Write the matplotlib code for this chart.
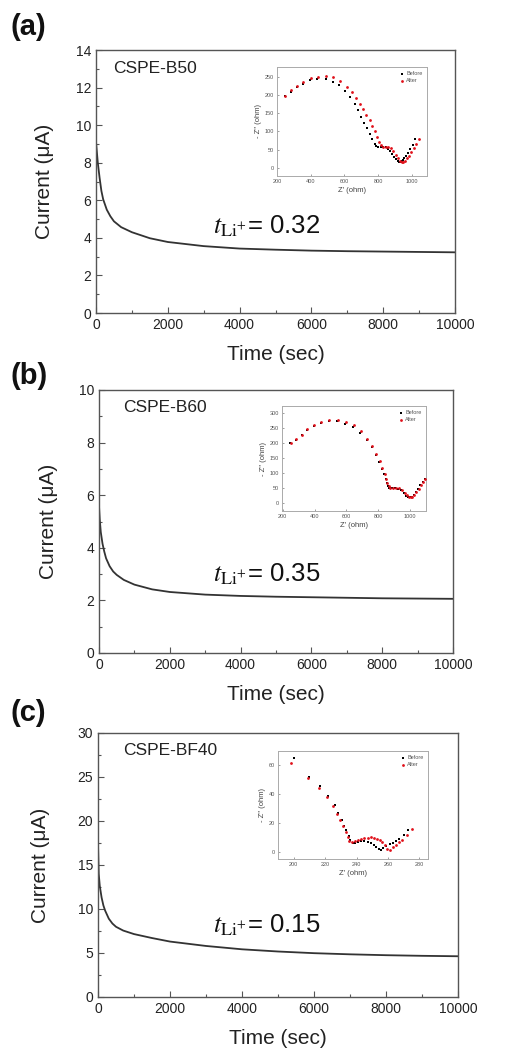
import matplotlib
matplotlib.use("Agg")
import matplotlib.pyplot as plt
from matplotlib.ticker import MultipleLocator

plt.rcParams['font.family'] = ['Liberation Sans', 'DejaVu Sans']
plt.rcParams['mathtext.fontset'] = 'stix'

# ---------------- data ----------------
time_a = [0, 50, 100, 150, 200, 300, 400, 500, 700, 1000, 1500, 2000, 3000, 4000, 5000, 6000, 7000, 8000, 9000, 10000]
current_a = [9.1, 8.0, 7.2, 6.5, 6.05, 5.5, 5.15, 4.88, 4.57, 4.3, 3.98, 3.78, 3.56, 3.43, 3.37, 3.32, 3.29, 3.27, 3.25, 3.23]

time_b = [0, 20, 50, 100, 150, 200, 300, 400, 500, 700, 1000, 1500, 2000, 3000, 4000, 5000, 6000, 7000, 8000, 9000, 10000]
current_b = [5.6, 5.1, 4.6, 4.15, 3.85, 3.6, 3.3, 3.1, 2.97, 2.78, 2.6, 2.42, 2.32, 2.22, 2.17, 2.14, 2.12, 2.10, 2.08, 2.07, 2.06]

time_c = [0, 20, 50, 100, 150, 200, 300, 400, 500, 700, 1000, 1500, 2000, 3000, 4000, 5000, 6000, 7000, 8000, 9000, 10000]
current_c = [17.5, 14.0, 12.6, 11.3, 10.4, 9.8, 8.9, 8.35, 7.98, 7.55, 7.15, 6.7, 6.3, 5.8, 5.42, 5.17, 4.98, 4.85, 4.75, 4.68, 4.63]

# EIS insets: Z' (ohm), -Z'' (ohm)
eis_a_before_x = [250, 282, 318, 352, 395, 440, 488, 530, 568, 605, 635, 660, 680, 700, 718, 735, 750, 765, 780, 790, 800, 815, 830, 845, 860, 872, 885, 897, 908, 917, 925, 933, 940, 948, 956, 965, 978, 992, 1005, 1020]
eis_a_before_y = [197, 207, 220, 230, 240, 243, 242, 236, 226, 211, 194, 176, 158, 140, 123, 108, 93, 78, 65, 60, 58, 58, 58, 56, 52, 46, 38, 30, 24, 19, 17, 17, 19, 23, 28, 33, 40, 52, 64, 78]
eis_a_after_x = [250, 285, 320, 355, 400, 445, 490, 530, 575, 615, 645, 670, 690, 710, 730, 750, 765, 780, 795, 805, 815, 830, 845, 860, 875, 890, 905, 918, 930, 940, 950, 960, 972, 985, 998, 1012, 1025, 1045]
eis_a_after_y = [197, 213, 225, 236, 246, 250, 251, 248, 238, 222, 207, 192, 176, 160, 146, 130, 116, 100, 84, 72, 62, 58, 58, 57, 54, 46, 36, 27, 20, 17, 17, 20, 26, 34, 44, 54, 65, 80]

eis_b_before_x = [248, 283, 318, 353, 393, 438, 488, 542, 592, 642, 688, 728, 758, 783, 806, 822, 836, 846, 854, 860, 866, 874, 888, 905, 925, 945, 962, 977, 990, 1000, 1010, 1022, 1036, 1050, 1065, 1080, 1095]
eis_b_before_y = [200, 212, 227, 244, 257, 267, 274, 273, 266, 254, 235, 210, 186, 161, 137, 114, 95, 78, 65, 56, 51, 50, 50, 50, 47, 41, 32, 24, 19, 18, 20, 26, 36, 47, 58, 70, 78]
eis_b_after_x = [250, 285, 320, 355, 395, 440, 490, 545, 595, 645, 690, 730, 760, 785, 810, 825, 840, 850, 858, 865, 875, 890, 910, 930, 950, 965, 980, 995, 1005, 1015, 1027, 1040, 1053, 1066, 1080, 1095]
eis_b_after_y = [202, 214, 229, 246, 260, 270, 278, 278, 272, 260, 240, 215, 190, 165, 140, 117, 97, 80, 66, 56, 51, 50, 50, 48, 42, 33, 25, 19, 18, 20, 26, 36, 47, 58, 70, 79]

eis_c_before_x = [200, 210, 217, 222, 226, 228.5, 230.5, 232, 233.5, 235, 236, 237.5, 239, 241, 243, 245, 247, 249, 251, 252.5, 254, 255.5, 257, 259, 261, 263, 265, 267, 270, 273]
eis_c_before_y = [65, 52, 46, 38.5, 32.5, 27, 22, 18, 15, 11, 8, 6, 6.2, 6.8, 7.2, 7.2, 6.8, 6, 4.5, 3, 1.8, 1.5, 2.5, 4, 5.2, 6.2, 7.2, 9, 12, 15]
eis_c_after_x = [198.5, 209, 216, 221, 225, 227.5, 229.5, 231.5, 233, 234.5, 235.5, 237, 239, 241, 243, 245, 247, 249, 251, 253, 255, 256.5, 258, 259.5, 261, 263, 265, 267, 269, 272, 275]
eis_c_after_y = [62, 51, 44.5, 38, 32, 26.5, 22, 18, 14, 10, 7.5, 6.5, 7.2, 8, 8.8, 9.5, 9.8, 10, 9.8, 9.2, 8, 6.5, 4.5, 2, 1.5, 3, 4.8, 6.5, 8.5, 12, 16]

panels = [
    dict(label='(a)', name='CSPE-B50', t=time_a, i=current_a, ymax=14, ymaj=2, ymin=1,
         tval='0.32', main=[96, 50, 455, 313], inset=[277, 67, 427, 176],
         bx=eis_a_before_x, by=eis_a_before_y, ax_=eis_a_after_x, ay=eis_a_after_y,
         ixlim=(200, 1090), iylim=(-22, 276), ixt=[200, 400, 600, 800, 1000], iyt=[0, 50, 100, 150, 200, 250],
         name_pos=(0.047, 0.93), t_pos=(0.326, 0.303), lab_y=27, ylpad=15.5),
    dict(label='(b)', name='CSPE-B60', t=time_b, i=current_b, ymax=10, ymaj=2, ymin=1,
         tval='0.35', main=[99, 390, 453, 653], inset=[282, 406, 426, 511],
         bx=eis_b_before_x, by=eis_b_before_y, ax_=eis_b_after_x, ay=eis_b_after_y,
         ixlim=(195, 1100), iylim=(-28, 325), ixt=[200, 400, 600, 800, 1000], iyt=[0, 50, 100, 150, 200, 250, 300],
         name_pos=(0.067, 0.933), t_pos=(0.322, 0.271), lab_y=376, ylpad=15),
    dict(label='(c)', name='CSPE-BF40', t=time_c, i=current_c, ymax=30, ymaj=5, ymin=2.5,
         tval='0.15', main=[98, 733, 458, 997], inset=[278, 751, 428, 859],
         bx=eis_c_before_x, by=eis_c_before_y, ax_=eis_c_after_x, ay=eis_c_after_y,
         ixlim=(190, 285.5), iylim=(-5, 70), ixt=[200, 220, 240, 260, 280], iyt=[0, 20, 40, 60],
         name_pos=(0.069, 0.933), t_pos=(0.319, 0.245), lab_y=713, ylpad=20),
]

W, H = 522, 1051
fig = plt.figure(figsize=(W / 100, H / 100), dpi=100)
fig.patch.set_facecolor('white')


def rect(box):
    x0, y0, x1, y1 = box
    return [x0 / W, 1 - y1 / H, (x1 - x0) / W, (y1 - y0) / H]


frame_col = '#555555'
for p in panels:
    ax = fig.add_axes(rect(p['main']))
    ax.plot(p['t'], p['i'], color='#333333', lw=1.3)
    ax.set_xlim(0, 10000)
    ax.set_ylim(0, p['ymax'])
    ax.xaxis.set_major_locator(MultipleLocator(2000))
    ax.xaxis.set_minor_locator(MultipleLocator(1000))
    ax.yaxis.set_major_locator(MultipleLocator(p['ymaj']))
    ax.yaxis.set_minor_locator(MultipleLocator(p['ymin']))
    ax.tick_params(which='both', direction='in', colors=frame_col, labelcolor='#222222', labelsize=10)
    ax.tick_params(which='major', length=4, width=0.8)
    ax.tick_params(which='minor', length=2.5, width=0.8)
    for s in ax.spines.values():
        s.set_color(frame_col)
        s.set_linewidth(1.0)
    ax.set_xlabel('Time (sec)', fontsize=15, color='#222222', labelpad=9.5)
    ax.set_ylabel('Current (\u03bcA)', fontsize=15, color='#222222', labelpad=p['ylpad'])
    ax.text(p['name_pos'][0], p['name_pos'][1], p['name'], transform=ax.transAxes,
            fontsize=12.5, color='#222222', ha='left', va='center')
    ax.text(p['t_pos'][0], p['t_pos'][1], r'$t_{\mathrm{Li^{+}}}$= ' + p['tval'], transform=ax.transAxes,
            fontsize=18.5, color='#111111', ha='left', va='baseline')
    fig.text(11 / W, 1 - p['lab_y'] / H, p['label'], fontsize=21, fontweight='bold',
             ha='left', va='center', color='#111111')

    ia = fig.add_axes(rect(p['inset']))
    ia.scatter(p['bx'], p['by'], s=4, marker='s', color='black', label='Before', zorder=2, linewidths=0)
    ia.scatter(p['ax_'], p['ay'], s=4, marker='o', color='#e0101a', label='After', zorder=3, linewidths=0)
    ia.set_xlim(*p['ixlim'])
    ia.set_ylim(*p['iylim'])
    ia.set_xticks(p['ixt'])
    ia.set_yticks(p['iyt'])
    ia.tick_params(direction='in', length=1.5, width=0.5, labelsize=4, colors='#777777', labelcolor='#555555', pad=2)
    for s in ia.spines.values():
        s.set_color('#aaaaaa')
        s.set_linewidth(0.7)
    ia.set_xlabel("Z' (ohm)", fontsize=5.5, color='#444444', labelpad=2)
    ia.set_ylabel("- Z'' (ohm)", fontsize=5.5, color='#444444', labelpad=2)
    leg = ia.legend(loc='upper right', fontsize=4, frameon=False, handletextpad=0.2,
                    borderaxespad=0.4, markerscale=1.0, labelspacing=0.3, handlelength=1.0)
    for t in leg.get_texts():
        t.set_color('#555555')

fig.savefig('out.png', dpi=100, facecolor='white')
